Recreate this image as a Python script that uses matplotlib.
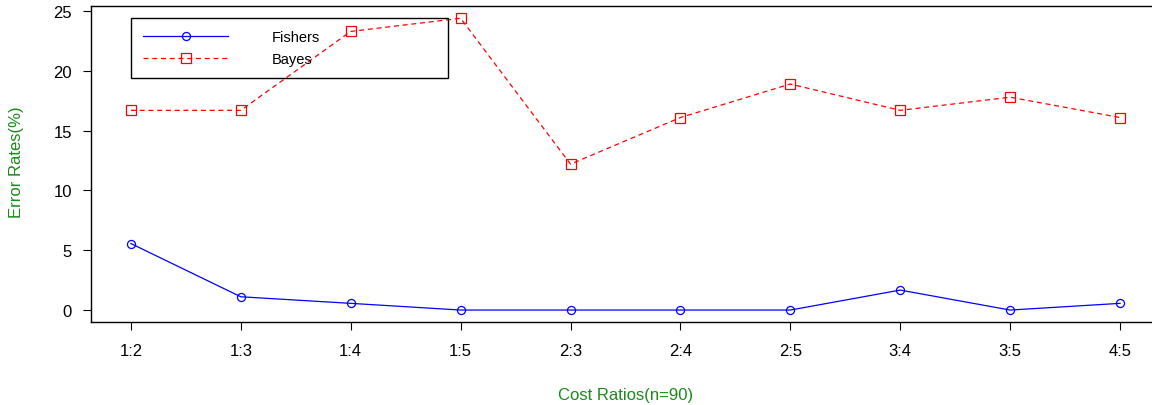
import numpy as np
import matplotlib
matplotlib.use('Agg')
import matplotlib.pyplot as plt

plt.rcParams['font.family'] = ['Liberation Sans', 'DejaVu Sans']

ratios = ['1:2', '1:3', '1:4', '1:5', '2:3', '2:4', '2:5', '3:4', '3:5', '4:5']
fishers = [5.56, 1.11, 0.56, 0.0, 0.0, 0.0, 0.0, 1.67, 0.0, 0.56]
bayes = [16.7, 16.7, 23.3, 24.4, 12.2, 16.1, 18.9, 16.7, 17.8, 16.1]

x = np.arange(1, len(ratios) + 1)

fig = plt.figure(figsize=(11.52, 4.06), dpi=100)
ax = fig.add_axes([0.0793, 0.205, 0.9273, 0.777])

ax.plot(x, fishers, color='blue', lw=0.9, marker='o', ms=5.8,
        mfc='none', mec='blue', mew=0.9, label='Fishers')
ax.plot(x, bayes, color='red', lw=0.9, ls=(0, (4, 3)), marker='s', ms=6.8,
        mfc='none', mec='red', mew=0.9, label='Bayes')

ax.set_xlim(0.64, 10.36)
ax.set_ylim(-0.98, 25.4)
ax.set_xticks(x)
ax.set_xticklabels(ratios)
ax.set_yticks([0, 5, 10, 15, 20, 25])
ax.tick_params(axis='both', direction='out', length=6, width=0.8,
               labelsize=12, colors='black')
ax.tick_params(axis='x', pad=9)
ax.tick_params(axis='y', pad=8)
for s in ax.spines.values():
    s.set_linewidth(1.0)
    s.set_color('black')

ax.set_xlabel('Cost Ratios(n=90)', color='#1a8a1a', fontsize=12, labelpad=21)
fig.text(0.014, 0.60, 'Error Rates(%)', color='#1a8a1a', fontsize=12,
         rotation=90, ha='center', va='center')

leg = ax.legend(loc='upper left', bbox_to_anchor=(0.037, 0.769, 0.297, 0.194),
                mode='expand', borderaxespad=0, fancybox=False,
                edgecolor='black', fontsize=10.5, handlelength=5.8,
                handletextpad=3.0, labelspacing=0.5, borderpad=0.85)
frame = leg.get_frame()
frame.set_alpha(None)
frame.set_facecolor('none')
frame.set_edgecolor('black')
frame.set_linewidth(1.0)

fig.savefig('out.png', dpi=100)
